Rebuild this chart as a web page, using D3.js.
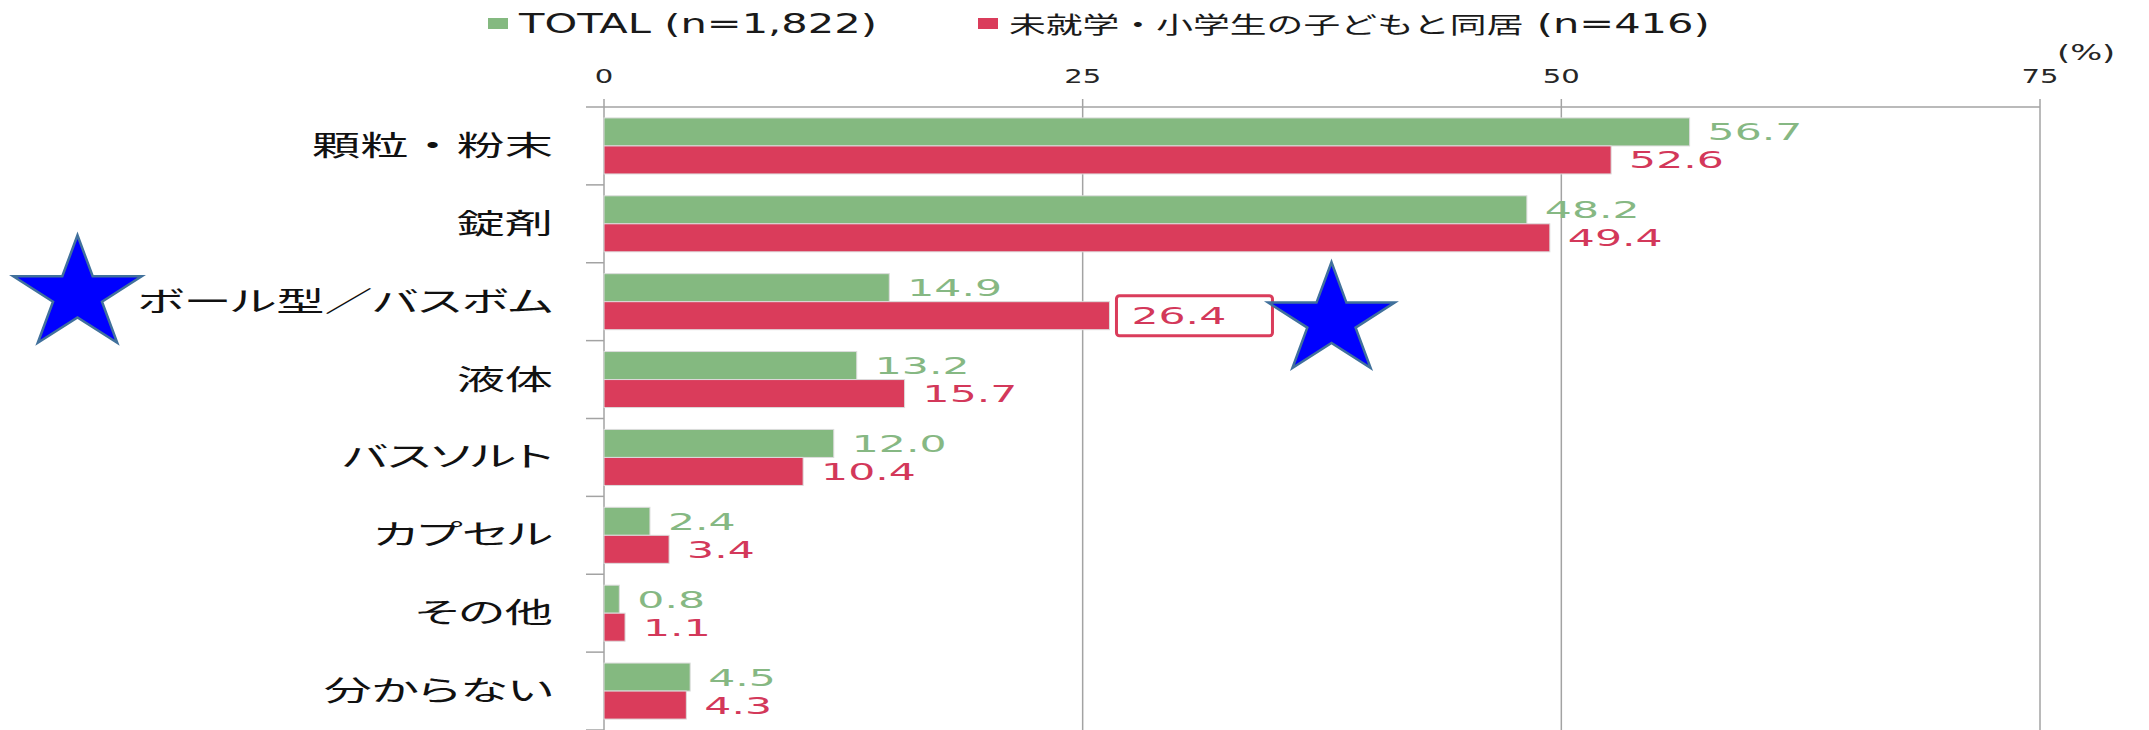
<html>
<head>
<meta charset="utf-8">
<title>入浴剤の形状</title>
<style>
body{ margin:0; background:#ffffff; }
#chart{ display:block; }
.grid{ stroke:#a3a3a3; stroke-width:1.5; }
.cat{ font-family:"Noto Sans CJK JP", sans-serif; font-size:28px; fill:#111111; font-feature-settings:"palt"; }
.cat .full{ font-feature-settings:normal; }
.tick{ font-family:"DejaVu Sans", "Noto Sans CJK JP", sans-serif; font-size:19px; fill:#262626; }
.val{ font-family:"DejaVu Sans", sans-serif; font-size:23px; }
.legend{ font-family:"DejaVu Sans", "Noto Sans CJK JP", sans-serif; fill:#1a1a1a; }
.star{ fill:#0000ff; stroke:#41719c; stroke-width:2.5; }
</style>
</head>
<body>
<svg id="chart"></svg>
<script src="https://d3js.org/d3.v7.min.js"></script>
<script>
var categories = ["顆粒・粉末", "錠剤", "ボール型／バスボム", "液体", "バスソルト", "カプセル", "その他", "分からない"];
var seriesNames = ["TOTAL (n=1,822)", "未就学・小学生の子どもと同居 (n=416)"];
var totalValues = [56.7, 48.2, 14.9, 13.2, 12.0, 2.4, 0.8, 4.5];
var kidsValues = [52.6, 49.4, 26.4, 15.7, 10.4, 3.4, 1.1, 4.3];
var xTicks = [0, 25, 50, 75];
var highlighted = "ボール型／バスボム";

var W = 2149, H = 730;
var colors = ["#84b980", "#da3c5b"];
var labelColors = ["#86b883", "#d3385a"];
// the source picture is stretched sideways, so text gets widened
var sxCat = 1.72, sxVal = 1.85, sxTick = 1.53, sxLeg = 1.6;

var svg = d3.select("#chart").attr("width", W).attr("height", H);

var x = d3.scaleLinear().domain([0, 75]).range([604, 2040]);
var y = d3.scaleBand().domain(categories).range([107, 730]);
var sub = d3.scaleBand().domain([0, 1]).range([0, y.bandwidth()])
    .paddingInner(0).paddingOuter(0.39);

// widen text by sx, using textLength so the glyphs stretch too
function widen(sel, sx){
    sel.each(function(){
        var len = this.getComputedTextLength();
        d3.select(this)
            .attr("textLength", len * sx)
            .attr("lengthAdjust", "spacingAndGlyphs");
    });
    return sel;
}

// gridlines and axis lines
svg.append("g").selectAll("line.grid")
    .data(xTicks)
    .enter().append("line")
    .attr("class", "grid")
    .attr("x1", function(d){ return x(d); })
    .attr("x2", function(d){ return x(d); })
    .attr("y1", 99)
    .attr("y2", H);
svg.append("line").attr("class", "grid")
    .attr("x1", 586).attr("x2", x(75))
    .attr("y1", 107).attr("y2", 107);
svg.append("g").selectAll("line")
    .data(categories)
    .enter().append("line")
    .attr("class", "grid")
    .attr("x1", 586).attr("x2", x(0))
    .attr("y1", function(d){ return y(d) + y.bandwidth(); })
    .attr("y2", function(d){ return y(d) + y.bandwidth(); });

// tick labels on top
var ticks = svg.append("g").selectAll("text")
    .data(xTicks)
    .enter().append("text")
    .attr("class", "tick")
    .attr("text-anchor", "middle")
    .attr("x", function(d){ return x(d); })
    .attr("y", 83)
    .text(function(d){ return d; });
widen(ticks, sxTick);
var pct = svg.append("text").attr("class", "tick").style("font-size", "22px")
    .attr("x", 2057).attr("y", 60)
    .text("(%)");
widen(pct, sxTick);

// category labels (proportional kana, but the middle dot keeps full width)
var cats = svg.append("g").selectAll("text")
    .data(categories)
    .enter().append("text")
    .attr("class", "cat")
    .attr("text-anchor", "end")
    .attr("dominant-baseline", "central")
    .attr("x", 553)
    .attr("y", function(d){ return y(d) + y.bandwidth() / 2 - 2; });
cats.each(function(d){
    var t = d3.select(this);
    d.split(/(・)/).filter(function(p){ return p.length; }).forEach(function(p){
        t.append("tspan").attr("class", p == "・" ? "full" : null).text(p);
    });
});
widen(cats, sxCat);

var rows = categories.map(function(c, i){
    return { cat: c, vals: [totalValues[i], kidsValues[i]] };
});

// highlight box for the kids value of ball type (drawn under its label)
var hiIdx = categories.indexOf(highlighted);
var hiY = y(highlighted) + sub(1) + sub.bandwidth() / 2;
svg.append("rect")
    .attr("x", x(kidsValues[hiIdx]) + 7)
    .attr("y", hiY - 20)
    .attr("width", 156)
    .attr("height", 40)
    .attr("rx", 3)
    .attr("fill", "#ffffff")
    .attr("stroke", colors[1])
    .attr("stroke-width", 3);

var groups = svg.append("g").selectAll("g")
    .data(rows)
    .enter().append("g")
    .attr("transform", function(d){ return "translate(0," + y(d.cat) + ")"; });

groups.selectAll("rect")
    .data(function(d){ return d.vals.map(function(v, s){ return { s: s, v: v, cat: d.cat }; }); })
    .enter().append("rect")
    .attr("x", x(0))
    .attr("y", function(d){ return sub(d.s); })
    .attr("width", function(d){ return x(d.v) - x(0); })
    .attr("height", sub.bandwidth())
    .attr("fill", function(d){ return colors[d.s]; })
    .attr("stroke", "#dcdcdc")
    .attr("stroke-width", 1);

var vals = groups.selectAll("text")
    .data(function(d){ return d.vals.map(function(v, s){ return { s: s, v: v, cat: d.cat }; }); })
    .enter().append("text")
    .attr("class", "val")
    .attr("fill", function(d){ return labelColors[d.s]; })
    .attr("x", function(d){
        var extra = (d.cat == highlighted && d.s == 1) ? 4 : 0;
        return x(d.v) + 18 + extra;
    })
    .attr("y", function(d){ return sub(d.s) + sub.bandwidth() / 2 + 8.5; })
    .text(function(d){ return d3.format(".1f")(d.v); });
widen(vals, sxVal);

// legend (latin runs are set a bit larger than the japanese ones)
function addRuns(textSel, str){
    var runs = str.match(/[\u3000-\u9fff\uff00-\uffef]+|[^\u3000-\u9fff\uff00-\uffef]+/g);
    runs.forEach(function(r){
        var cjk = /[\u3000-\u9fff\uff00-\uffef]/.test(r);
        textSel.append("tspan")
            .style("font-family", cjk ? "'Noto Sans CJK JP'" : "'DejaVu Sans'")
            .style("font-size", cjk ? "23px" : "26px")
            .text(r);
    });
}
var legX = [488, 978];
seriesNames.forEach(function(name, i){
    svg.append("rect")
        .attr("x", legX[i]).attr("y", 18)
        .attr("width", 20).attr("height", 11)
        .attr("fill", colors[i]);
    var t = svg.append("text").attr("class", "legend")
        .attr("x", legX[i] + 31).attr("y", 33);
    addRuns(t, name);
    widen(t, sxLeg);
});

// blue star marks
function starPath(cx, cy, rx, ry){
    var pts = [];
    for (var k = 0; k < 10; k++){
        var a = -Math.PI / 2 + k * Math.PI / 5;
        var f = (k % 2 == 0) ? 1 : 0.382;
        pts.push([cx + Math.cos(a) * rx * f, cy + Math.sin(a) * ry * f]);
    }
    return "M" + pts.map(function(p){ return p[0].toFixed(1) + "," + p[1].toFixed(1); }).join("L") + "Z";
}
svg.append("path").attr("class", "star")
    .attr("d", starPath(77.5, y(highlighted) + y.bandwidth() / 2 - 7, 67.5, 59.5));
svg.append("path").attr("class", "star")
    .attr("d", starPath(x(kidsValues[hiIdx]) + 7 + 156 + 59, hiY + 5, 66.5, 58.5));
</script>
</body>
</html>
